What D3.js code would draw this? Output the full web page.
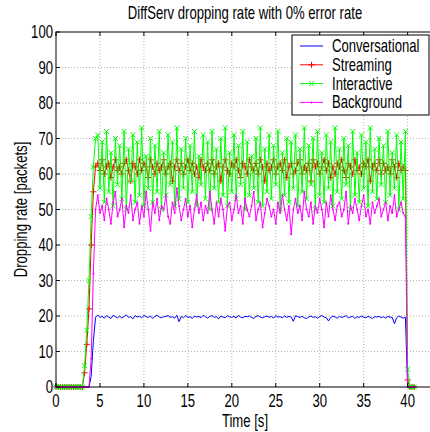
<!DOCTYPE html>
<html>
<head>
<meta charset="utf-8">
<script src="https://cdn.jsdelivr.net/npm/d3@7"></script>
<style>
  body { margin: 0; background: #fff; }
  text { font-family: "Liberation Sans", Arial, sans-serif; fill: #000; }
</style>
</head>
<body>
<div id="chart"></div>
<script>
// sample spacing of the recorded series, seconds
var timeStep = 0.25;

var seriesNames = ["Conversational", "Streaming", "Interactive", "Background"];

var conversational = [
  0,0,0,0,0,0,0,0,0,0,0,0,0,0,0,0,3,13,19.6,
  20.3,19.6,19.9,19.4,20.1,19.7,19.3,20.2,19.8,19.5,
  20.0,19.4,19.9,20.3,19.6,19.8,19.2,20.1,19.7,19.9,
  19.5,20.2,19.8,19.6,20.0,19.3,19.9,20.2,19.7,19.5,
  19.8,19.9,20.1,19.6,19.8,19.4,20.2,18.4,19.9,19.5,
  20.1,19.6,19.8,19.3,20.0,19.7,19.9,19.5,20.2,19.8,
  19.4,19.9,20.1,19.6,19.8,19.2,20.0,19.7,19.5,20.1,
  19.8,19.6,19.9,19.4,20.2,19.7,19.5,19.9,19.8,20.0,
  19.6,19.3,19.9,20.1,19.7,19.5,19.8,20.0,19.6,19.9,
  19.4,20.1,19.7,19.8,19.5,20.0,19.6,19.9,19.7,18.5,
  20.1,19.8,19.6,19.9,19.5,19.3,19.7,20.0,19.6,19.8,
  19.4,19.9,20.1,19.7,19.5,18.6,19.6,20.0,19.7,19.4,
  19.9,19.6,19.8,20.1,19.5,19.7,19.9,19.3,19.8,19.6,
  20.0,19.7,19.5,19.9,19.6,19.3,19.8,19.7,19.9,19.5,
  19.8,19.4,19.9,19.7,19.6,17.8,19.5,20.0,19.7,19.4,
  19.6,
  0,0,0,0
];

var streaming = [
  0,0,0,0,0,0,0,0,0,0,0,0,0,4,12,22,40,55,62,
  63,61,64,60,62,63,59,62,64,61,
  62,60,63,64,61,58,63,62,60,64,
  61,63,62,59,64,62,60,63,61,62,
  64,60,62,63,58,62,64,61,63,60,
  62,64,61,63,60,62,59,64,62,61,
  63,61,64,60,62,63,58,62,64,61,
  60,63,62,64,61,59,63,62,60,64,
  62,61,63,60,64,62,58,63,61,62,
  64,60,62,63,61,64,59,62,63,60,
  61,63,64,60,62,61,63,58,64,62,
  63,60,62,64,61,63,59,62,60,63,
  62,64,61,59,63,62,60,64,61,62,
  60,63,62,64,58,62,63,61,64,60,
  63,61,62,60,64,62,59,63,61,62,
  61,
  2,0,0,0
];

var interactive = [
  0,0,0,0,0,0,0,0,0,0,0,0,0,6,16,30,48,62,70,
  71,56,69,52,72,55,66,51,70,57,
  68,53,72,50,67,58,71,52,69,54,
  73,51,65,56,70,52,68,55,72,50,
  66,54,71,57,69,51,73,53,67,56,
  70,52,68,55,72,51,65,57,71,53,
  69,50,72,56,67,52,70,54,73,51,
  66,55,71,53,68,57,72,50,69,54,
  65,56,70,52,73,51,67,55,71,53,
  68,57,72,50,66,54,70,52,69,56,
  71,51,67,55,73,53,68,57,70,50,
  72,54,66,52,71,56,69,51,73,55,
  67,53,70,57,68,50,72,54,66,52,
  71,56,69,51,73,55,67,53,70,57,
  68,52,72,54,66,56,71,50,69,53,
  72,
  5,0,0,0
];

var background = [
  0,0,0,0,0,0,0,0,0,0,0,0,0,0,0,0,8,32,50,
  54,49,51,47,53,50,46,52,55,48,
  50,53,45,51,49,54,47,50,52,46,
  51,48,55,50,44,52,49,53,47,51,
  50,54,48,46,52,49,56,51,47,50,
  53,48,51,45,50,54,49,52,47,51,
  49,55,50,46,52,48,53,50,44,51,
  52,47,50,54,49,51,46,53,50,48,
  51,55,47,50,52,45,49,53,51,48,
  50,46,52,49,54,50,47,51,43,50,
  53,49,51,47,55,50,48,52,46,51,
  49,53,50,45,52,48,54,50,47,51,
  52,48,50,55,46,51,49,53,50,47,
  51,54,48,50,46,52,49,51,53,48,
  50,52,47,51,49,54,48,50,52,49,
  48,
  0,0,0,0
];

var xTicks = [0, 5, 10, 15, 20, 25, 30, 35, 40];
var yTicks = [0, 10, 20, 30, 40, 50, 60, 70, 80, 90, 100];
var xDomain = [0, 43];
var yDomain = [0, 100];

var colors = ["#0000ff", "#ff0000", "#00ff00", "#ff00ff"];
var markers = ["none", "plus", "cross", "dot"];
var allSeries = [conversational, streaming, interactive, background];

var width = 430, height = 432;
var margin = { left: 56, right: 434, top: 32, bottom: 387 };
// the figure text is squeezed horizontally, like a narrow helvetica
var squeeze = 0.75;
var fontSize = "17.5px";

var svg = d3.select("#chart").append("svg")
  .attr("width", width)
  .attr("height", height);

var x = d3.scaleLinear().domain(xDomain).range([margin.left, margin.right]);
var y = d3.scaleLinear().domain(yDomain).range([margin.bottom, margin.top]);

function placeText(sel, px, py, rot) {
  sel.attr("transform", "translate(" + px + "," + py + ")" + (rot ? " rotate(" + rot + ")" : "") + " scale(" + squeeze + ",1)")
    .attr("font-size", fontSize);
}

// grid
svg.append("g").selectAll("line")
  .data(xTicks.filter(d => d > 0))
  .enter().append("line")
  .attr("x1", d => x(d)).attr("x2", d => x(d))
  .attr("y1", margin.top).attr("y2", margin.bottom)
  .attr("stroke", "#b4b4b4").attr("stroke-dasharray", "1,2");

svg.append("g").selectAll("line")
  .data(yTicks.filter(d => d > 0 && d < 100))
  .enter().append("line")
  .attr("y1", d => y(d)).attr("y2", d => y(d))
  .attr("x1", margin.left).attr("x2", margin.right)
  .attr("stroke", "#b4b4b4").attr("stroke-dasharray", "1,2");

svg.append("clipPath").attr("id", "plotClip")
  .append("rect")
  .attr("x", margin.left - 4).attr("y", margin.top)
  .attr("width", margin.right - margin.left + 4)
  .attr("height", margin.bottom - margin.top + 4);

var plot = svg.append("g").attr("clip-path", "url(#plotClip)");

var line = d3.line()
  .x((d, i) => x(i * timeStep))
  .y(d => y(d));

allSeries.forEach(function(values, k) {
  plot.append("path")
    .datum(values)
    .attr("d", line)
    .attr("fill", "none")
    .attr("stroke", colors[k])
    .attr("stroke-width", 1);

  var pts = plot.append("g");
  values.forEach(function(v, i) {
    drawMarker(pts, markers[k], x(i * timeStep), y(v), colors[k]);
  });
});

function drawMarker(g, type, cx, cy, color) {
  if (type === "plus") {
    g.append("path")
      .attr("d", "M" + (cx - 3) + "," + cy + "H" + (cx + 3) + "M" + cx + "," + (cy - 3) + "V" + (cy + 3))
      .attr("stroke", color).attr("stroke-width", 1);
  } else if (type === "cross") {
    g.append("path")
      .attr("d", "M" + (cx - 2.5) + "," + (cy - 2.5) + "L" + (cx + 2.5) + "," + (cy + 2.5) +
                 "M" + (cx - 2.5) + "," + (cy + 2.5) + "L" + (cx + 2.5) + "," + (cy - 2.5))
      .attr("stroke", color).attr("stroke-width", 1);
  } else if (type === "dot") {
    g.append("circle").attr("cx", cx).attr("cy", cy).attr("r", 1).attr("fill", color);
  }
}

// axes frame, ticks pointing inward like matlab
var axes = svg.append("g").attr("stroke", "#000").attr("stroke-width", 1);
axes.append("rect")
  .attr("x", margin.left).attr("y", margin.top)
  .attr("width", margin.right - margin.left)
  .attr("height", margin.bottom - margin.top)
  .attr("fill", "none");

xTicks.forEach(function(t) {
  axes.append("line").attr("x1", x(t)).attr("x2", x(t)).attr("y1", margin.bottom).attr("y2", margin.bottom - 4);
  axes.append("line").attr("x1", x(t)).attr("x2", x(t)).attr("y1", margin.top).attr("y2", margin.top + 4);
});
yTicks.forEach(function(t) {
  axes.append("line").attr("y1", y(t)).attr("y2", y(t)).attr("x1", margin.left).attr("x2", margin.left + 4);
});

svg.append("g").selectAll("text")
  .data(xTicks)
  .enter().append("text")
  .each(function(d) { placeText(d3.select(this), x(d), margin.bottom + 20); })
  .attr("text-anchor", "middle")
  .text(d => d);

svg.append("g").selectAll("text")
  .data(yTicks)
  .enter().append("text")
  .each(function(d) { placeText(d3.select(this), margin.left - 3, y(d) + 6); })
  .attr("text-anchor", "end")
  .text(d => d);

// titles
svg.append("text")
  .call(placeText, (margin.left + margin.right) / 2, 19)
  .attr("text-anchor", "middle")
  .text("DiffServ dropping rate with 0% error rate");

svg.append("text")
  .call(placeText, (margin.left + margin.right) / 2, 427)
  .attr("text-anchor", "middle")
  .text("Time [s]");

svg.append("text")
  .call(placeText, 27, (margin.top + margin.bottom) / 2, -90)
  .attr("text-anchor", "middle")
  .text("Dropping rate [packets]");

// legend
var legend = svg.append("g");
legend.append("rect")
  .attr("x", 292).attr("y", 35)
  .attr("width", 137).attr("height", 80)
  .attr("fill", "#fff").attr("stroke", "#000");

var rows = legend.selectAll(".legend")
  .data(seriesNames)
  .enter().append("g")
  .attr("class", "legend")
  .attr("transform", (d, i) => "translate(0," + (46 + i * 18.8) + ")");

rows.append("line")
  .attr("x1", 300).attr("x2", 323)
  .attr("stroke", (d, i) => colors[i]);

rows.each(function(d, i) {
  drawMarker(d3.select(this), markers[i], 311.5, 0, colors[i]);
});

rows.append("text")
  .each(function() { placeText(d3.select(this), 332, 6); })
  .text(d => d);
</script>
</body>
</html>
